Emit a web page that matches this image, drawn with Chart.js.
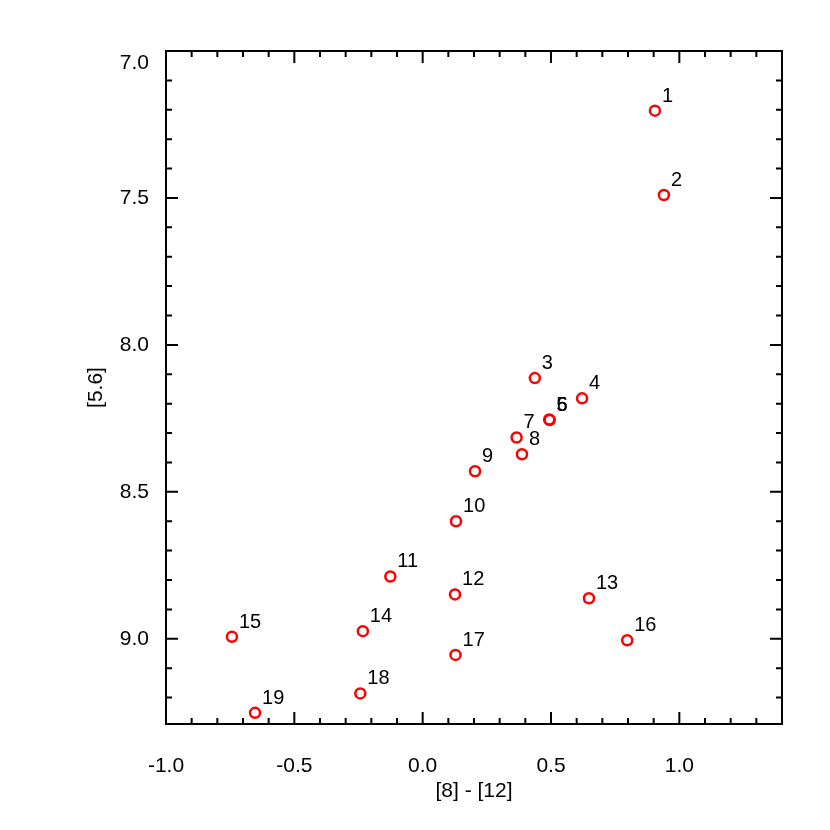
<!DOCTYPE html>
<html>
<head>
<meta charset="utf-8">
<script src="https://cdn.jsdelivr.net/npm/chart.js@4.4.1/dist/chart.umd.min.js"></script>
<style>
    html, body { margin: 0; padding: 0; background: #fff; }
</style>
</head>
<body>
<canvas id="chart-area1" width="830" height="830"></canvas>
<script>
// star numbers, colour [8]-[12] and magnitude [5.6]
var starNames = ['1', '2', '3', '4', '5', '6', '7', '8', '9', '10',
                 '11', '12', '13', '14', '15', '16', '17', '18', '19'];
var colour812 = [0.905, 0.940, 0.437, 0.621, 0.493, 0.495, 0.366, 0.387, 0.204, 0.130,
                 -0.126, 0.126, 0.648, -0.233, -0.743, 0.797, 0.128, -0.243, -0.653];
var mag56 = [7.203, 7.490, 8.113, 8.182, 8.254, 8.256, 8.315, 8.372, 8.430, 8.600,
             8.788, 8.849, 8.862, 8.974, 8.993, 9.005, 9.055, 9.186, 9.252];
var xTickLabels = ['-1.0', '-0.5', '0.0', '0.5', '1.0'];
var yTickLabels = ['7.0', '7.5', '8.0', '8.5', '9.0'];

Chart.defaults.font.family = '"Liberation Sans", Arial, Helvetica, sans-serif';
Chart.defaults.color = '#000';

function onStep(v, s) {
    return Math.abs(v / s - Math.round(v / s)) < 1e-6;
}
function fmt(v) {
    if (Math.abs(v) < 1e-9) v = 0;
    return v.toFixed(1);
}

// IDL style frame: box on four sides, ticks pointing in, numbers next to points
var frameAndLabels = {
    id: 'frameAndLabels',
    afterDatasetsDraw: function (chart) {
        var ctx = chart.ctx;
        var area = chart.chartArea;
        var xs = chart.scales.x, ys = chart.scales.y;
        ctx.save();
        ctx.strokeStyle = '#000';
        ctx.lineWidth = 2;
        ctx.strokeRect(area.left, area.top, area.right - area.left, area.bottom - area.top);

        ctx.beginPath();
        xs.ticks.forEach(function (t) {
            if (!onStep(t.value, 0.1)) return;
            var len = onStep(t.value, 0.5) ? 12 : 6;
            var px = xs.getPixelForValue(t.value);
            ctx.moveTo(px, area.bottom); ctx.lineTo(px, area.bottom - len);
            ctx.moveTo(px, area.top); ctx.lineTo(px, area.top + len);
        });
        ys.ticks.forEach(function (t) {
            if (!onStep(t.value, 0.1)) return;
            var len = onStep(t.value, 0.5) ? 12 : 6;
            var py = ys.getPixelForValue(t.value);
            ctx.moveTo(area.left, py); ctx.lineTo(area.left + len, py);
            ctx.moveTo(area.right, py); ctx.lineTo(area.right - len, py);
        });
        ctx.stroke();

        var meta = chart.getDatasetMeta(0);
        ctx.fillStyle = '#000';
        ctx.font = '20px "Liberation Sans", Arial, sans-serif';
        ctx.textAlign = 'left';
        ctx.textBaseline = 'alphabetic';
        meta.data.forEach(function (pt, i) {
            ctx.fillText(starNames[i], pt.x + 7, pt.y - 9);
        });
        ctx.restore();
    }
};

var points = [];
for (var i = 0; i < colour812.length; i++) {
    points.push({ x: colour812[i], y: mag56[i] });
}

var config = {
    type: 'scatter',
    data: {
        datasets: [{
            data: points,
            pointStyle: 'circle',
            pointRadius: 5,
            pointBorderWidth: 2.5,
            pointBorderColor: '#ff0000',
            pointBackgroundColor: 'rgba(0,0,0,0)'
        }]
    },
    options: {
        responsive: false,
        animation: false,
        events: [],
        devicePixelRatio: 1,
        layout: { padding: { top: 51, right: 48, left: 0, bottom: 0 } },
        plugins: {
            legend: { display: false },
            tooltip: { enabled: false }
        },
        scales: {
            x: {
                type: 'linear',
                min: -1.0,
                max: 1.4,
                grid: { display: false },
                border: { display: false },
                ticks: {
                    stepSize: 0.1,
                    autoSkip: false,
                    maxRotation: 0,
                    padding: 22,
                    font: { size: 21 },
                    callback: function (value) {
                        var s = fmt(value);
                        return xTickLabels.indexOf(s) >= 0 && onStep(value, 0.5) ? s : '';
                    }
                },
                title: {
                    display: true,
                    text: '[8] - [12]',
                    font: { size: 21 },
                    padding: { top: 0, bottom: 26 }
                },
                afterFit: function (scale) { scale.height = 106; }
            },
            y: {
                type: 'linear',
                reverse: true,
                min: 7.0,
                max: 9.29,
                grid: { display: false },
                border: { display: false },
                ticks: {
                    stepSize: 0.1,
                    autoSkip: false,
                    padding: 9,
                    font: { size: 21, lineHeight: 1.15 },
                    callback: function (value) {
                        var s = fmt(value);
                        if (!onStep(value, 0.5) || yTickLabels.indexOf(s) < 0) return '';
                        if (s === yTickLabels[0]) return ['', s]; // top label sits below the frame corner
                        return s;
                    }
                },
                title: {
                    display: true,
                    text: '[5.6]',
                    font: { size: 21 },
                    padding: { top: 84, bottom: 0 }
                },
                afterFit: function (scale) { scale.width = 166; }
            }
        }
    },
    plugins: [frameAndLabels]
};

var ctx = document.getElementById('chart-area1').getContext('2d');
var myScatter = new Chart(ctx, config);
</script>
</body>
</html>
